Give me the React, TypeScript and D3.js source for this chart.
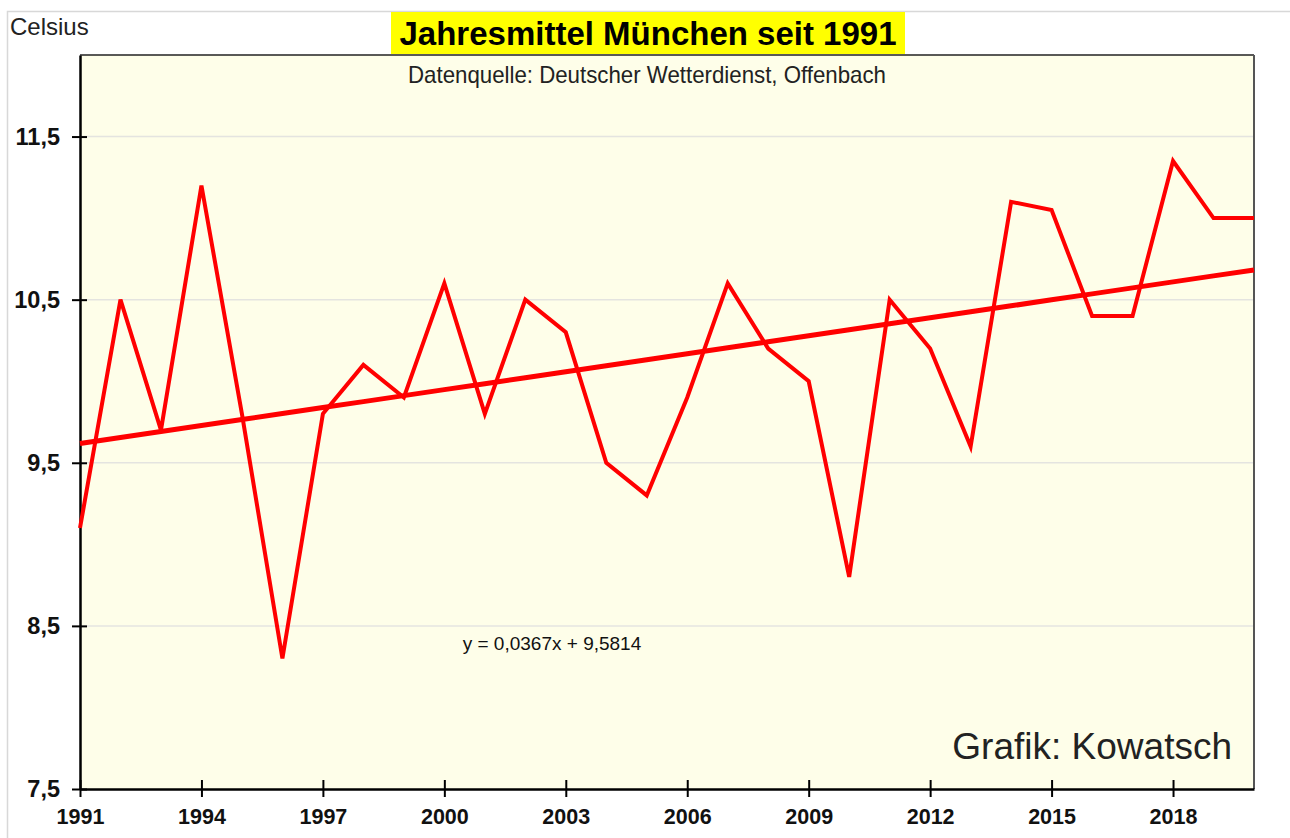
import React, { useEffect, useRef } from "react";
import * as d3 from "d3";

// Jahresmittel München, Celsius
const years = d3.range(1991, 2021);
const temps = [
  9.1, 10.5, 9.7, 11.2, 9.8, 8.3, 9.8, 10.1, 9.9, 10.6, 9.8, 10.5, 10.3, 9.5,
  9.3, 9.9, 10.6, 10.2, 10.0, 8.8, 10.5, 10.2, 9.6, 11.1, 11.05, 10.4, 10.4,
  11.35, 11.0, 11.0,
];
const yTicks = [7.5, 8.5, 9.5, 10.5, 11.5];
const xTicks = [1991, 1994, 1997, 2000, 2003, 2006, 2009, 2012, 2015, 2018];
// trend y = a*x + b, x = 1..n
const trendSlope = 0.0367;
const trendIntercept = 9.5814;

const title = "Jahresmittel München seit 1991";
const subtitle = "Datenquelle: Deutscher Wetterdienst, Offenbach";
const credit = "Grafik: Kowatsch";
const unit = "Celsius";

const W = 1290,
  H = 838;
const margin = { top: 55, right: 36, bottom: 49, left: 80 };

export default function App() {
  const ref = useRef<SVGSVGElement>(null);

  useEffect(() => {
    const svg = d3.select(ref.current);
    svg.selectAll("*").remove();
    const font = "'Liberation Sans', Arial, sans-serif";

    const x = d3
      .scaleLinear()
      .domain([1991, 2020])
      .range([margin.left, W - margin.right]);
    const y = d3
      .scaleLinear()
      .domain([7.5, 12])
      .range([H - margin.bottom, margin.top]);

    // outer frame
    svg
      .append("path")
      .attr("d", `M7.5,${H} V11.5 H${W}`)
      .attr("fill", "none")
      .attr("stroke", "#d8d8d8")
      .attr("stroke-width", 1.5);

    // plot background
    svg
      .append("rect")
      .attr("x", x(1991))
      .attr("y", y(12))
      .attr("width", x(2020) - x(1991))
      .attr("height", y(7.5) - y(12))
      .attr("fill", "#fefee9");

    // grid
    svg
      .append("g")
      .selectAll("line")
      .data(yTicks.slice(1))
      .join("line")
      .attr("x1", x(1991))
      .attr("x2", x(2020))
      .attr("y1", (d) => y(d))
      .attr("y2", (d) => y(d))
      .attr("stroke", "#e4e4e0")
      .attr("stroke-width", 1.5);

    // frame of plot
    svg
      .append("line")
      .attr("x1", x(1991))
      .attr("x2", x(2020))
      .attr("y1", y(12))
      .attr("y2", y(12))
      .attr("stroke", "#222")
      .attr("stroke-width", 1.5);
    svg
      .append("line")
      .attr("x1", x(2020))
      .attr("x2", x(2020))
      .attr("y1", y(12))
      .attr("y2", y(7.5))
      .attr("stroke", "#555")
      .attr("stroke-width", 2);

    // y axis
    const yAxis = svg
      .append("g")
      .attr("transform", `translate(${x(1991)},0)`)
      .call(
        d3
          .axisLeft(y)
          .tickValues(yTicks)
          .tickSize(8)
          .tickSizeOuter(0)
          .tickPadding(12)
          .tickFormat((d) => d3.format(".1f")(d as number).replace(".", ","))
      );
    yAxis.select(".domain").attr("stroke", "#000").attr("stroke-width", 2.5);
    yAxis
      .selectAll(".tick line")
      .attr("x2", -8)
      .attr("x1", 7)
      .attr("stroke", "#000")
      .attr("stroke-width", 2);
    yAxis
      .selectAll(".tick text")
      .attr("font-family", font)
      .attr("font-size", 23.5)
      .attr("font-weight", "bold")
      .attr("fill", "#111");

    // x axis
    const xAxis = svg
      .append("g")
      .attr("transform", `translate(0,${y(7.5)})`)
      .call(
        d3
          .axisBottom(x)
          .tickValues(xTicks)
          .tickSize(8)
          .tickSizeOuter(0)
          .tickPadding(12)
          .tickFormat((d) => String(d))
      );
    xAxis.select(".domain").attr("stroke", "#000").attr("stroke-width", 2.5);
    xAxis
      .selectAll(".tick line")
      .attr("y1", -9)
      .attr("y2", 8)
      .attr("stroke", "#000")
      .attr("stroke-width", 2);
    xAxis
      .selectAll(".tick text")
      .attr("font-family", font)
      .attr("font-size", 21.5)
      .attr("font-weight", "bold")
      .attr("fill", "#111");

    // data line
    const line = d3
      .line<number>()
      .x((_, i) => x(years[i]))
      .y((d) => y(d));
    svg
      .append("path")
      .datum(temps)
      .attr("fill", "none")
      .attr("stroke", "#ff0000")
      .attr("stroke-width", 4)
      .attr("stroke-linejoin", "miter")
      .attr("d", line);

    // trend line
    const trend = years.map((_, i) => trendSlope * (i + 1) + trendIntercept);
    svg
      .append("path")
      .datum(trend)
      .attr("fill", "none")
      .attr("stroke", "#ff0000")
      .attr("stroke-width", 5)
      .attr("d", line);

    // title
    svg
      .append("rect")
      .attr("x", 391)
      .attr("y", 12)
      .attr("width", 514)
      .attr("height", 42)
      .attr("fill", "#ffff00");
    svg
      .append("text")
      .attr("x", 648)
      .attr("y", 45)
      .attr("text-anchor", "middle")
      .attr("font-family", font)
      .attr("font-size", 33)
      .attr("font-weight", "bold")
      .attr("fill", "#000")
      .text(title);

    svg
      .append("text")
      .attr("x", 647)
      .attr("y", 83)
      .attr("text-anchor", "middle")
      .attr("font-family", font)
      .attr("font-size", 24)
      .attr("textLength", 478)
      .attr("lengthAdjust", "spacingAndGlyphs")
      .attr("fill", "#222")
      .text(subtitle);

    svg
      .append("text")
      .attr("x", 10)
      .attr("y", 35)
      .attr("font-family", font)
      .attr("font-size", 24)
      .attr("fill", "#222")
      .text(unit);

    svg
      .append("text")
      .attr("x", 552)
      .attr("y", 650)
      .attr("text-anchor", "middle")
      .attr("font-family", font)
      .attr("font-size", 19)
      .attr("fill", "#111")
      .text(
        `y = ${String(trendSlope).replace(".", ",")}x + ${String(
          trendIntercept
        ).replace(".", ",")}`
      );

    svg
      .append("text")
      .attr("x", 1232)
      .attr("y", 759)
      .attr("text-anchor", "end")
      .attr("font-family", font)
      .attr("font-size", 37)
      .attr("fill", "#222")
      .text(credit);
  }, []);

  return (
    <svg
      ref={ref}
      width={W}
      height={H}
      style={{ position: "absolute", left: 0, top: 0, background: "#fff" }}
    />
  );
}
